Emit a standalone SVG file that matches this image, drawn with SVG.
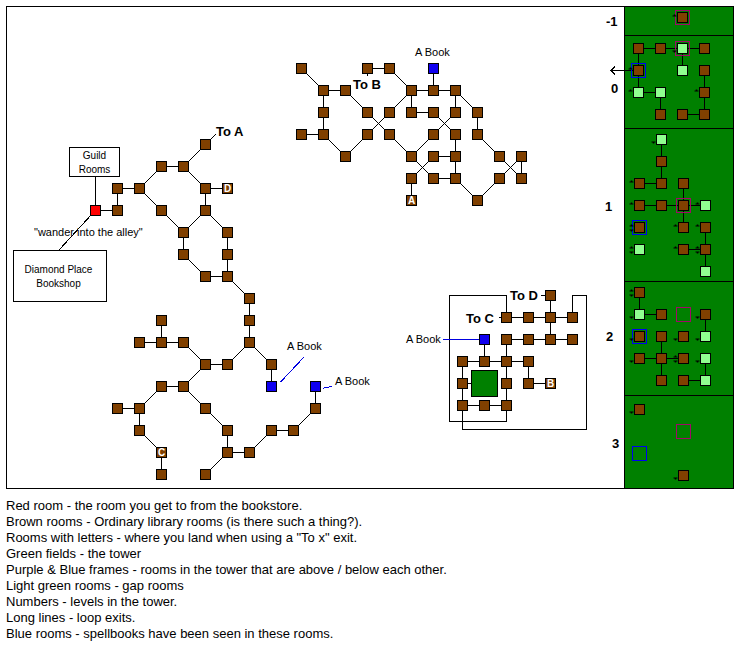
<svg xmlns="http://www.w3.org/2000/svg" width="743" height="647" viewBox="0 0 743 647">
<style>
text{font-family:"Liberation Sans",Arial,sans-serif;fill:#000}
.t{font-size:13px}
.a{font-size:11px}
.n{font-size:10px;text-anchor:middle}
.b{font-size:13px;font-weight:bold}
.l{font-size:10px;font-weight:bold;fill:#fff;text-anchor:middle}
.c{fill:none;stroke:#000;stroke-width:1;shape-rendering:crispEdges}
.bl{fill:none;stroke:#0000e0;stroke-width:1;shape-rendering:crispEdges}
rect{shape-rendering:crispEdges}
.r{fill:#804000;stroke:#000}
.g{fill:#90ff90;stroke:#000}
.u{fill:#1000f0;stroke:#000}
.x{fill:#f00;stroke:#000}
.box{fill:#fff;stroke:#000}
.fp{fill:none;stroke:#a00868}
.fb{fill:none;stroke:#0000f0}
</style>
<defs>
<path id="up" d="M-2 1.5H2V.5H.8V-.5H-.8V.5H-2z" fill="#000"/>
<path id="dn" d="M-2 -1.5H2V-.5H.8V.5H-.8V-.5H-2z" fill="#000"/>
</defs>
<rect id="frame" x="6.5" y="6.5" width="727" height="482" fill="#fff" stroke="#000"/>
<rect id="tower" x="624.5" y="6.5" width="109" height="482" fill="#008000" stroke="#000"/>
<path class="c" d="M625 35.500H733M625 128.500H733M625 281.500H733M625 395.500H733"/>
<g id="connectors">
<path class="c" d="M95.500 176.500V210.500M95.500 210.500H117.500V188.500H139.500M139.500 188.500L161.500 166.500H183.500L205.500 144.500M210.500 139.500L216 134M183.500 166.500L205.500 188.500H227.500M205.500 188.500V210.500M139.500 188.500L161.500 210.500L183.500 232.500L205.500 210.500L227.500 232.500V276.500H205.500L183.500 254.500V232.500M227.500 276.500L249.500 298.500V342.500M92 214L59 250"/>
<path class="c" d="M249.500 342.500L227.500 364.500H205.500L183.500 342.500H139.500M161.500 320.500V342.500M249.500 342.500L271.500 364.500V386.500M205.500 364.500L183.500 386.500H161.500L139.500 408.500H117.500M139.500 408.500V430.500L161.500 452.500V474.500M183.500 386.500L205.500 408.500L227.500 430.500V452.500H249.500L271.500 430.500H293.500L315.500 408.500V386.500M227.500 452.500L205.500 474.500"/>
<path class="c" d="M301.500 68.500L323.500 90.500H345.500L367.500 112.500L389.500 134.500L411.500 156.500L433.500 178.500H455.500L477.500 200.500L499.500 178.500L521.500 156.500V178.500L499.500 156.500L477.500 134.500V112.500L455.500 90.500H411.500L389.500 112.500L367.500 134.500L345.500 156.500L323.500 134.500H301.500M323.500 90.500V134.500M367.500 68.500H389.500L411.500 90.500V112.500H433.500L455.500 134.500V178.500M367.500 68.500V76M433.500 68.500V90.500M455.500 90.500V112.500L433.500 134.500L411.500 156.500M433.500 156.500H455.500M433.500 156.500L411.500 178.500V200.500"/>
<path class="c" d="M550.500 295.500V339.500M541 295.500H550.500M498.500 317.500H572.500M506.500 339.500H572.500M484.500 339.500V361.500M506.500 339.500V405.500M462.500 361.500H528.500V383.500H550.500M462.500 361.500V405.500H506.500M462.500 383.500H472"/>
<path class="c" d="M506.500 317.500V295.500H449.500V421.500H506.500V405.500M572.500 317.500V295.500H586.500V429.500H462.500V405.500"/>
<path class="bl" d="M443 339.500H484M303.700 357.300L280.300 382.300M323 388.300L332 386.300"/>
<path class="c" d="M638.500 48.500H704.500M638.500 48.500V92.500H660.500V114.500M682.500 48.500V70.500M704.500 70.500V114.500H682.500M611 70.500H638.500M615 66.500L611 70.500L615 74.500"/>
<path class="c" d="M661.500 139.500V183.500H639.500M683.500 183.500V227.500M639.500 205.500H705.500M705.500 227.500V271.500M683.500 249.500H705.500"/>
<path class="c" d="M639.500 292.500V314.500H661.500M705.500 314.500V336.500M661.500 336.500V380.500M639.500 358.500H683.500M705.500 358.500V380.500H683.500"/>
</g>
<g id="library">
<g id="n-red"><rect class="x" x="90.500" y="205.500" width="10" height="10"/></g>
<g id="n1"><rect class="r" x="112.500" y="205.500" width="10" height="10"/></g>
<g id="n2"><rect class="r" x="112.500" y="183.500" width="10" height="10"/></g>
<g id="n3"><rect class="r" x="134.500" y="183.500" width="10" height="10"/></g>
<g id="n4"><rect class="r" x="156.500" y="161.500" width="10" height="10"/></g>
<g id="n5"><rect class="r" x="178.500" y="161.500" width="10" height="10"/></g>
<g id="n6"><rect class="r" x="200.500" y="139.500" width="10" height="10"/></g>
<g id="n7"><rect class="r" x="200.500" y="183.500" width="10" height="10"/></g>
<g id="n-D"><rect class="r" x="222.500" y="183.500" width="10" height="10"/><text class="l" x="227.500" y="192">D</text></g>
<g id="n8"><rect class="r" x="200.500" y="205.500" width="10" height="10"/></g>
<g id="n9"><rect class="r" x="156.500" y="205.500" width="10" height="10"/></g>
<g id="n10"><rect class="r" x="178.500" y="227.500" width="10" height="10"/></g>
<g id="n11"><rect class="r" x="222.500" y="227.500" width="10" height="10"/></g>
<g id="n12"><rect class="r" x="178.500" y="249.500" width="10" height="10"/></g>
<g id="n13"><rect class="r" x="222.500" y="249.500" width="10" height="10"/></g>
<g id="n14"><rect class="r" x="200.500" y="271.500" width="10" height="10"/></g>
<g id="n15"><rect class="r" x="222.500" y="271.500" width="10" height="10"/></g>
<g id="n16"><rect class="r" x="244.500" y="293.500" width="10" height="10"/></g>
<g id="n17"><rect class="r" x="244.500" y="315.500" width="10" height="10"/></g>
<g id="n18"><rect class="r" x="244.500" y="337.500" width="10" height="10"/></g>
<g id="n19"><rect class="r" x="266.500" y="359.500" width="10" height="10"/></g>
<g id="n20"><rect class="u" x="266.500" y="381.500" width="10" height="10"/></g>
<g id="n21"><rect class="r" x="222.500" y="359.500" width="10" height="10"/></g>
<g id="n22"><rect class="r" x="200.500" y="359.500" width="10" height="10"/></g>
<g id="n23"><rect class="r" x="156.500" y="315.500" width="10" height="10"/></g>
<g id="n24"><rect class="r" x="156.500" y="337.500" width="10" height="10"/></g>
<g id="n25"><rect class="r" x="134.500" y="337.500" width="10" height="10"/></g>
<g id="n26"><rect class="r" x="178.500" y="337.500" width="10" height="10"/></g>
<g id="n27"><rect class="r" x="178.500" y="381.500" width="10" height="10"/></g>
<g id="n28"><rect class="r" x="156.500" y="381.500" width="10" height="10"/></g>
<g id="n29"><rect class="r" x="200.500" y="403.500" width="10" height="10"/></g>
<g id="n30"><rect class="r" x="222.500" y="425.500" width="10" height="10"/></g>
<g id="n31"><rect class="r" x="222.500" y="447.500" width="10" height="10"/></g>
<g id="n32"><rect class="r" x="244.500" y="447.500" width="10" height="10"/></g>
<g id="n33"><rect class="r" x="200.500" y="469.500" width="10" height="10"/></g>
<g id="n34"><rect class="r" x="266.500" y="425.500" width="10" height="10"/></g>
<g id="n35"><rect class="r" x="288.500" y="425.500" width="10" height="10"/></g>
<g id="n36"><rect class="r" x="310.500" y="403.500" width="10" height="10"/></g>
<g id="n37"><rect class="u" x="310.500" y="381.500" width="10" height="10"/></g>
<g id="n38"><rect class="r" x="134.500" y="403.500" width="10" height="10"/></g>
<g id="n39"><rect class="r" x="112.500" y="403.500" width="10" height="10"/></g>
<g id="n40"><rect class="r" x="134.500" y="425.500" width="10" height="10"/></g>
<g id="n-C"><rect class="r" x="156.500" y="447.500" width="10" height="10"/><text class="l" x="161.500" y="456">C</text></g>
<g id="n41"><rect class="r" x="156.500" y="469.500" width="10" height="10"/></g>
<g id="n50"><rect class="r" x="296.500" y="63.500" width="10" height="10"/></g>
<g id="n51"><rect class="r" x="318.500" y="85.500" width="10" height="10"/></g>
<g id="n52"><rect class="r" x="340.500" y="85.500" width="10" height="10"/></g>
<g id="n53"><rect class="r" x="362.500" y="63.500" width="10" height="10"/></g>
<g id="n54"><rect class="r" x="384.500" y="63.500" width="10" height="10"/></g>
<g id="n55"><rect class="u" x="428.500" y="63.500" width="10" height="10"/></g>
<g id="n56"><rect class="r" x="406.500" y="85.500" width="10" height="10"/></g>
<g id="n57"><rect class="r" x="428.500" y="85.500" width="10" height="10"/></g>
<g id="n58"><rect class="r" x="450.500" y="85.500" width="10" height="10"/></g>
<g id="n59"><rect class="r" x="318.500" y="107.500" width="10" height="10"/></g>
<g id="n60"><rect class="r" x="362.500" y="107.500" width="10" height="10"/></g>
<g id="n61"><rect class="r" x="384.500" y="107.500" width="10" height="10"/></g>
<g id="n62"><rect class="r" x="406.500" y="107.500" width="10" height="10"/></g>
<g id="n63"><rect class="r" x="428.500" y="107.500" width="10" height="10"/></g>
<g id="n64"><rect class="r" x="450.500" y="107.500" width="10" height="10"/></g>
<g id="n65"><rect class="r" x="472.500" y="107.500" width="10" height="10"/></g>
<g id="n66"><rect class="r" x="296.500" y="129.500" width="10" height="10"/></g>
<g id="n67"><rect class="r" x="318.500" y="129.500" width="10" height="10"/></g>
<g id="n68"><rect class="r" x="362.500" y="129.500" width="10" height="10"/></g>
<g id="n69"><rect class="r" x="384.500" y="129.500" width="10" height="10"/></g>
<g id="n70"><rect class="r" x="428.500" y="129.500" width="10" height="10"/></g>
<g id="n71"><rect class="r" x="450.500" y="129.500" width="10" height="10"/></g>
<g id="n72"><rect class="r" x="472.500" y="129.500" width="10" height="10"/></g>
<g id="n73"><rect class="r" x="340.500" y="151.500" width="10" height="10"/></g>
<g id="n74"><rect class="r" x="406.500" y="151.500" width="10" height="10"/></g>
<g id="n75"><rect class="r" x="428.500" y="151.500" width="10" height="10"/></g>
<g id="n76"><rect class="r" x="450.500" y="151.500" width="10" height="10"/></g>
<g id="n77"><rect class="r" x="494.500" y="151.500" width="10" height="10"/></g>
<g id="n78"><rect class="r" x="516.500" y="151.500" width="10" height="10"/></g>
<g id="n79"><rect class="r" x="406.500" y="173.500" width="10" height="10"/></g>
<g id="n80"><rect class="r" x="428.500" y="173.500" width="10" height="10"/></g>
<g id="n81"><rect class="r" x="450.500" y="173.500" width="10" height="10"/></g>
<g id="n82"><rect class="r" x="494.500" y="173.500" width="10" height="10"/></g>
<g id="n83"><rect class="r" x="516.500" y="173.500" width="10" height="10"/></g>
<g id="n-A"><rect class="r" x="406.500" y="195.500" width="10" height="10"/><text class="l" x="411.500" y="204">A</text></g>
<g id="n84"><rect class="r" x="472.500" y="195.500" width="10" height="10"/></g>
<g id="n90"><rect class="r" x="545.500" y="290.500" width="10" height="10"/></g>
<g id="n91"><rect class="r" x="501.500" y="312.500" width="10" height="10"/></g>
<g id="n92"><rect class="r" x="523.500" y="312.500" width="10" height="10"/></g>
<g id="n93"><rect class="r" x="545.500" y="312.500" width="10" height="10"/></g>
<g id="n94"><rect class="r" x="567.500" y="312.500" width="10" height="10"/></g>
<g id="n95"><rect class="u" x="479.500" y="334.500" width="10" height="10"/></g>
<g id="n96"><rect class="r" x="501.500" y="334.500" width="10" height="10"/></g>
<g id="n97"><rect class="r" x="523.500" y="334.500" width="10" height="10"/></g>
<g id="n98"><rect class="r" x="545.500" y="334.500" width="10" height="10"/></g>
<g id="n99"><rect class="r" x="567.500" y="334.500" width="10" height="10"/></g>
<g id="n100"><rect class="r" x="457.500" y="356.500" width="10" height="10"/></g>
<g id="n101"><rect class="r" x="479.500" y="356.500" width="10" height="10"/></g>
<g id="n102"><rect class="r" x="501.500" y="356.500" width="10" height="10"/></g>
<g id="n103"><rect class="r" x="523.500" y="356.500" width="10" height="10"/></g>
<g id="n104"><rect class="r" x="457.500" y="378.500" width="10" height="10"/></g>
<g id="n105"><rect class="r" x="501.500" y="378.500" width="10" height="10"/></g>
<g id="n106"><rect class="r" x="523.500" y="378.500" width="10" height="10"/></g>
<g id="n-B"><rect class="r" x="545.500" y="378.500" width="10" height="10"/><text class="l" x="550.500" y="387">B</text></g>
<g id="n107"><rect class="r" x="457.500" y="400.500" width="10" height="10"/></g>
<g id="n108"><rect class="r" x="479.500" y="400.500" width="10" height="10"/></g>
<g id="n109"><rect class="r" x="501.500" y="400.500" width="10" height="10"/></g>
<g id="n-core"><rect x="471.500" y="370.500" width="26" height="26" fill="#008000" stroke="#000"/></g>
</g>
<g id="level-m1">
<g id="t1"><rect class="r" x="677.500" y="12.500" width="10" height="10"/><rect class="fp" x="675.500" y="10.500" width="14" height="14"/><use href="#up" x="674.500" y="15"/></g>
</g>
<g id="level-0">
<g id="t2"><rect class="r" x="633.500" y="43.500" width="10" height="10"/></g>
<g id="t3"><rect class="r" x="655.500" y="43.500" width="10" height="10"/></g>
<g id="t4"><rect class="g" x="677.500" y="43.500" width="10" height="10"/><rect class="fp" x="675.500" y="41.500" width="14" height="14"/><use href="#dn" x="674.500" y="52"/></g>
<g id="t5"><rect class="r" x="699.500" y="43.500" width="10" height="10"/></g>
<g id="t6"><rect class="r" x="633.500" y="65.500" width="10" height="10"/><rect class="fb" x="631.500" y="63.500" width="14" height="14"/><use href="#up" x="630.500" y="68"/></g>
<g id="t7"><rect class="g" x="677.500" y="65.500" width="10" height="10"/></g>
<g id="t8"><rect class="r" x="699.500" y="65.500" width="10" height="10"/></g>
<g id="t9"><rect class="g" x="633.500" y="87.500" width="10" height="10"/><use href="#up" x="630.500" y="90"/></g>
<g id="t10"><rect class="g" x="655.500" y="87.500" width="10" height="10"/></g>
<g id="t11"><rect class="r" x="699.500" y="87.500" width="10" height="10"/><use href="#up" x="696.500" y="90"/></g>
<g id="t12"><rect class="r" x="655.500" y="109.500" width="10" height="10"/></g>
<g id="t13"><rect class="r" x="677.500" y="109.500" width="10" height="10"/></g>
<g id="t14"><rect class="r" x="699.500" y="109.500" width="10" height="10"/></g>
</g>
<g id="level-1">
<g id="t20"><rect class="g" x="656.500" y="134.500" width="10" height="10"/><use href="#dn" x="653.500" y="143"/></g>
<g id="t21"><rect class="r" x="656.500" y="156.500" width="10" height="10"/></g>
<g id="t22"><rect class="r" x="634.500" y="178.500" width="10" height="10"/><use href="#up" x="631.500" y="181"/></g>
<g id="t23"><rect class="r" x="656.500" y="178.500" width="10" height="10"/></g>
<g id="t24"><rect class="r" x="678.500" y="178.500" width="10" height="10"/></g>
<g id="t25"><rect class="r" x="634.500" y="200.500" width="10" height="10"/><use href="#up" x="631.500" y="203"/></g>
<g id="t26"><rect class="r" x="656.500" y="200.500" width="10" height="10"/></g>
<g id="t27"><rect class="r" x="678.500" y="200.500" width="10" height="10"/><rect class="fp" x="676.500" y="198.500" width="14" height="14"/></g>
<g id="t28"><rect class="g" x="700.500" y="200.500" width="10" height="10"/><use href="#up" x="697.500" y="203"/></g>
<g id="t29"><rect class="r" x="634.500" y="222.500" width="10" height="10"/><rect class="fb" x="632.500" y="220.500" width="14" height="14"/><use href="#up" x="631.500" y="225"/><use href="#dn" x="631.500" y="231"/></g>
<g id="t30"><rect class="r" x="678.500" y="222.500" width="10" height="10"/><use href="#up" x="675.500" y="225"/></g>
<g id="t31"><rect class="r" x="700.500" y="222.500" width="10" height="10"/><use href="#up" x="697.500" y="225"/></g>
<g id="t32"><rect class="g" x="634.500" y="244.500" width="10" height="10"/><use href="#up" x="631.500" y="247"/><use href="#dn" x="631.500" y="253"/></g>
<g id="t33"><rect class="r" x="678.500" y="244.500" width="10" height="10"/><use href="#up" x="675.500" y="247"/></g>
<g id="t34"><rect class="r" x="700.500" y="244.500" width="10" height="10"/><use href="#up" x="697.500" y="247"/><use href="#dn" x="697.500" y="253"/></g>
<g id="t35"><rect class="g" x="700.500" y="266.500" width="10" height="10"/></g>
</g>
<g id="level-2">
<g id="t40"><rect class="r" x="634.500" y="287.500" width="10" height="10"/><use href="#up" x="631.500" y="290"/><use href="#dn" x="631.500" y="296"/></g>
<g id="t41"><rect class="g" x="634.500" y="309.500" width="10" height="10"/><use href="#dn" x="631.500" y="318"/></g>
<g id="t42"><rect class="r" x="656.500" y="309.500" width="10" height="10"/></g>
<g id="t43"><rect class="fp" x="676.500" y="307.500" width="14" height="14"/></g>
<g id="t44"><rect class="r" x="700.500" y="309.500" width="10" height="10"/><use href="#dn" x="697.500" y="318"/></g>
<g id="t45"><rect class="r" x="634.500" y="331.500" width="10" height="10"/><rect class="fb" x="632.500" y="329.500" width="14" height="14"/><use href="#dn" x="631.500" y="340"/></g>
<g id="t46"><rect class="r" x="656.500" y="331.500" width="10" height="10"/></g>
<g id="t47"><rect class="r" x="678.500" y="331.500" width="10" height="10"/><use href="#dn" x="675.500" y="340"/></g>
<g id="t48"><rect class="g" x="700.500" y="331.500" width="10" height="10"/><use href="#dn" x="697.500" y="340"/></g>
<g id="t49"><rect class="r" x="634.500" y="353.500" width="10" height="10"/><use href="#dn" x="631.500" y="362"/></g>
<g id="t50"><rect class="r" x="656.500" y="353.500" width="10" height="10"/></g>
<g id="t51"><rect class="r" x="678.500" y="353.500" width="10" height="10"/><use href="#up" x="675.500" y="356"/><use href="#dn" x="675.500" y="362"/></g>
<g id="t52"><rect class="g" x="700.500" y="353.500" width="10" height="10"/><use href="#dn" x="697.500" y="362"/></g>
<g id="t53"><rect class="r" x="656.500" y="375.500" width="10" height="10"/></g>
<g id="t54"><rect class="r" x="678.500" y="375.500" width="10" height="10"/></g>
<g id="t55"><rect class="g" x="700.500" y="375.500" width="10" height="10"/></g>
</g>
<g id="level-3">
<g id="t60"><rect class="r" x="634.500" y="404.500" width="10" height="10"/><use href="#dn" x="631.500" y="413"/></g>
<g id="t61"><rect class="fb" x="632.500" y="446.500" width="14" height="14"/></g>
<g id="t62"><rect class="fp" x="676.500" y="424.500" width="14" height="14"/></g>
<g id="t63"><rect class="r" x="678.500" y="470.500" width="10" height="10"/><use href="#dn" x="675.500" y="479"/></g>
</g>
<g id="guild"><rect class="box" x="69.500" y="147.500" width="50" height="29"/><text class="n" x="94.500" y="158.500">Guild</text><text class="n" x="94.500" y="172.500">Rooms</text></g>
<g id="bookshop"><rect class="box" x="13.500" y="250.500" width="93" height="51"/><text class="n" x="58.500" y="273">Diamond Place</text><text class="n" x="58.500" y="287">Bookshop</text></g>
<text class="a" x="34" y="236">"wander into the alley"</text>
<text class="b" x="216" y="136">To A</text>
<text class="b" x="353" y="89">To B</text>
<text class="b" x="466" y="323">To C</text>
<text class="b" x="510" y="300">To D</text>
<text class="a" x="415" y="56">A Book</text>
<text class="a" x="287" y="350">A Book</text>
<text class="a" x="335" y="385">A Book</text>
<text class="a" x="406" y="343">A Book</text>
<text class="b" x="606" y="26">-1</text>
<text class="b" x="611" y="93">0</text>
<text class="b" x="605" y="211">1</text>
<text class="b" x="606" y="341">2</text>
<text class="b" x="612" y="448">3</text>
<g id="legend">
<text class="t" x="6" y="510">Red room - the room you get to from the bookstore.</text>
<text class="t" x="6" y="526">Brown rooms - Ordinary library rooms (is there such a thing?).</text>
<text class="t" x="6" y="542">Rooms with letters - where you land when using a "To x" exit.</text>
<text class="t" x="6" y="558">Green fields - the tower</text>
<text class="t" x="6" y="574">Purple &amp; Blue frames - rooms in the tower that are above / below each other.</text>
<text class="t" x="6" y="590">Light green rooms - gap rooms</text>
<text class="t" x="6" y="606">Numbers - levels in the tower.</text>
<text class="t" x="6" y="622">Long lines - loop exits.</text>
<text class="t" x="6" y="638">Blue rooms - spellbooks have been seen in these rooms.</text>
</g>
</svg>
